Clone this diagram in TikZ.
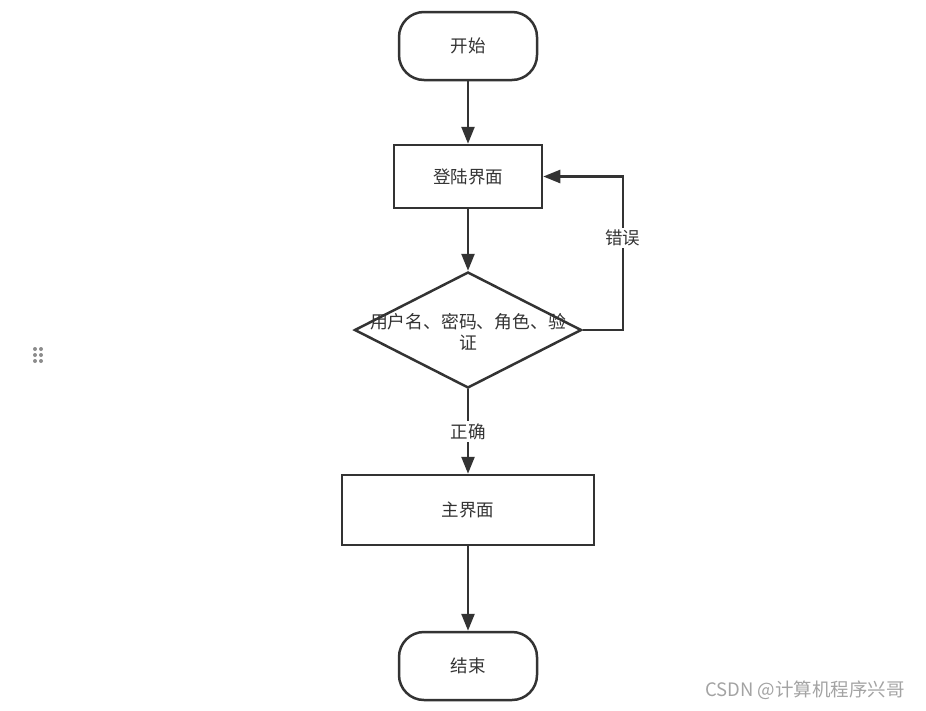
\documentclass[tikz,border=0pt]{standalone}
\usepackage{fontspec}
\setmainfont{Noto Sans CJK SC}
\usetikzlibrary{shapes,shapes.geometric,arrows.meta,positioning,calc}
\usepackage{xcolor}
\definecolor{linegray}{RGB}{51,51,51}
\definecolor{textgray}{RGB}{51,51,51}
\definecolor{markgray}{RGB}{140,140,140}

\begin{document}
\begin{tikzpicture}[
    x=1pt, y=-1pt,
    terminal/.style={rectangle, rounded corners=25pt, minimum width=138pt, minimum height=68pt, draw=linegray, line width=2.5pt, text=textgray, font=\fontsize{17.5}{21}\selectfont},
    process/.style={rectangle, minimum width=148pt, minimum height=63pt, draw=linegray, line width=2.5pt, text=textgray, font=\fontsize{17.5}{21}\selectfont},
    decision/.style={diamond, minimum width=227pt, minimum height=116pt, inner sep=0pt, draw=linegray, line width=2.5pt},
    arrow/.style={-{Triangle[length=17pt,width=13pt]}, line width=2.5pt, draw=linegray},
    lbl/.style={fill=white, inner sep=2pt, text=textgray, font=\fontsize{17.5}{21}\selectfont}
]
\useasboundingbox (0,0) rectangle (926,710);

% === NODES ===
\node (start) [terminal] at (468,46) {开始};
\node (login) [process, below=62.5pt of start] {登陆界面};
\node (check) [decision, below=61.5pt of login] {};
\node (checktext) [align=center, text=textgray, font=\fontsize{17.8}{21}\selectfont] at ($(check.center)+(0,2)$) {用户名、密码、角色、验\\证};
\node (mainui) [process, minimum width=252pt, minimum height=70pt, below=84.5pt of check] {主界面};
\node (stop) [terminal, below=84.5pt of mainui] {结束};

% === CONNECTORS ===
\draw[arrow] (start) -- (login);
\draw[arrow] (login) -- (check);
\draw[arrow] (check) -- node[lbl] {正确} (mainui);
\draw[arrow] (mainui) -- (stop);

% Loop back when wrong
\draw[arrow] (check.east) -- ++(40,0) |- node[lbl, pos=0.3] {错误} (login.east);

% Drag handle
\foreach \dx in {35,41}
  \foreach \dy in {349,355,361}
    \fill[markgray] (\dx,\dy) circle (2);

% Watermark
\node (mark) [text=markgray!80, font=\fontsize{18.5}{22}\selectfont] at (805,690) {CSDN @计算机程序兴哥};

\end{tikzpicture}
\end{document}
